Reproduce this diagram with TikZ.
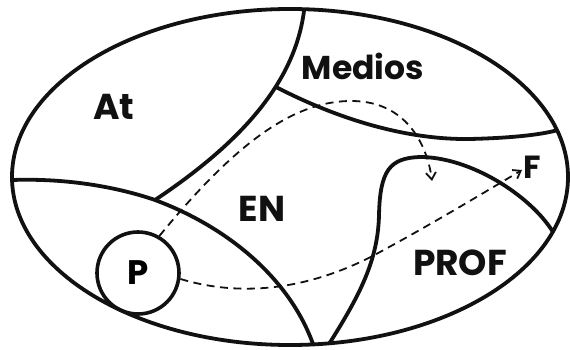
\documentclass[tikz,border=0pt]{standalone}
\usepackage{fontspec}
\setmainfont{Poppins}
\usepackage{tikz}
\usetikzlibrary{arrows.meta}
\definecolor{Ink}{HTML}{111111}

\begin{document}
\begin{tikzpicture}[x=1pt,y=-1pt,
  wall/.style={Ink,line width=3.8pt,line join=round},
  route/.style={Ink,line width=1.8pt,dash pattern=on 8pt off 5.5pt,-{Straight Barb[length=7pt,width=10pt]}},
  zone/.style={font=\fontsize{36}{38}\selectfont\bfseries,text=Ink,inner sep=0pt}]
\useasboundingbox (0,0) rectangle (570,350);
% outer field
\draw[wall] (290,177) ellipse [x radius=278, y radius=168];
\coordinate (top) at (304,11);
\coordinate (mid) at (276,87);
\coordinate (knee) at (155,200);
\coordinate (west) at (12,180);
\coordinate (east) at (558,130);
\coordinate (foot1) at (313,344);
\coordinate (foot2) at (329,344);
\coordinate (rim) at (553,232);
% inner borders
\draw[wall] (top) .. controls (295,80) and (245,140) .. (knee);
\draw[wall] (mid) .. controls (330,115) and (400,140) .. (470,139) .. controls (510,138) and (540,135) .. (east);
\draw[wall] (west) .. controls (70,178) and (120,188) .. (knee) .. controls (230,228) and (290,280) .. (foot1);
\draw[wall] (foot2) .. controls (360,295) and (378,260) .. (379,215) .. controls (380,170) and (390,158) .. (420,157) .. controls (470,157) and (530,195) .. (rim);
% labels
\node[zone] (at) at (114,107) {At};
\node[zone,font=\fontsize{33}{35}\selectfont\bfseries] (medios) at (363,66) {Medios};
\node[zone] (en) at (262,209) {EN};
\node[zone] (prof) at (460,263) {PROF};
\node[zone,font=\fontsize{32}{34}\selectfont\bfseries] (f) at (532,167) {F};
\node[circle,draw=Ink,line width=3.6pt,minimum size=82pt,inner sep=0pt,
  font=\fontsize{34}{36}\selectfont\bfseries] (P) at (138,273) {P};
\coordinate (drop) at (432,181);
\coordinate (goal) at (522,170);
% paths
\draw[route] (P.60) .. controls (230,150) and (290,100) .. (353,101) .. controls (410,102) and (428,150) .. (drop);
\draw[route] (P.-8) .. controls (250,300) and (320,285) .. (380,252) .. controls (430,225) and (480,195) .. (goal);
\end{tikzpicture}
\end{document}
